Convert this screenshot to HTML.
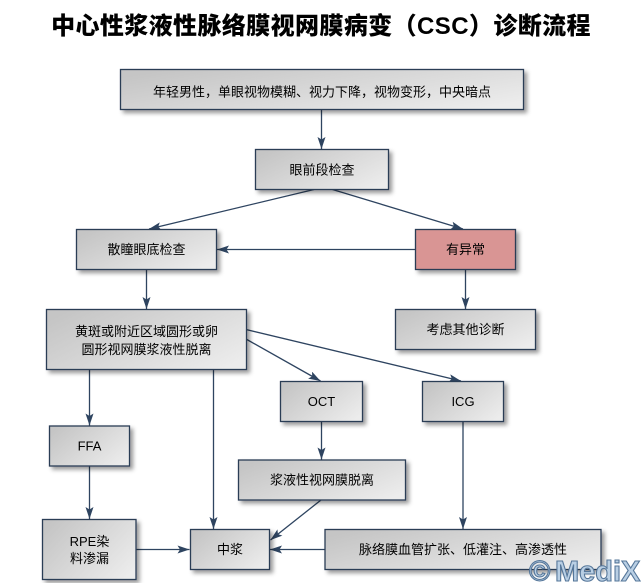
<!DOCTYPE html>
<html>
<head>
<meta charset="utf-8">
<style>
  html, body { margin: 0; padding: 0; background: #ffffff; }
  body { width: 642px; height: 583px; overflow: hidden; }
  svg { display: block; }
  .t { font-family: "Liberation Sans", "Noto Sans CJK SC", sans-serif; font-size: 13px; fill: #000; text-anchor: middle; }
  .title { font-family: "Liberation Sans", "Noto Sans CJK SC", sans-serif; font-size: 24px; font-weight: 900; fill: #000; text-anchor: middle; letter-spacing: 0.4px; }
  .box { stroke: #2b3d55; stroke-width: 1.3; filter: url(#sh); }
  .ln { stroke: #2e4460; stroke-width: 1.3; fill: none; marker-end: url(#ah); }
  .wm { font-family: "Liberation Sans", sans-serif; font-weight: bold; font-size: 29px; fill: #b9cfe4; stroke: #56779a; stroke-width: 1.1; }
</style>
</head>
<body>
<svg width="642" height="583" viewBox="0 0 642 583" xmlns="http://www.w3.org/2000/svg">
  <defs>
    <linearGradient id="g" x1="0" y1="0.2" x2="1" y2="0.8">
      <stop offset="0" stop-color="#c5c5c5"/>
      <stop offset="1" stop-color="#ececec"/>
    </linearGradient>
    <filter id="sh" x="-10%" y="-20%" width="130%" height="160%">
      <feDropShadow dx="3" dy="3" stdDeviation="2" flood-color="#000" flood-opacity="0.4"/>
    </filter>
    <marker id="ah" markerUnits="userSpaceOnUse" markerWidth="14" markerHeight="10" refX="12" refY="4" orient="auto">
      <path d="M0,0 L12,4 L0,8 L2.5,4 Z" fill="#2e4460"/>
    </marker>
  </defs>

  <!-- Title -->
  <text class="title" x="321" y="34">中心性浆液性脉络膜视网膜病变（CSC）诊断流程</text>

  <!-- Connectors -->
  <line class="ln" x1="321.5" y1="109.5" x2="321.5" y2="149"/>
  <line class="ln" x1="314" y1="189.5" x2="149" y2="229"/>
  <line class="ln" x1="332.5" y1="189.5" x2="463" y2="229"/>
  <line class="ln" x1="415.5" y1="249.5" x2="217" y2="249.5"/>
  <line class="ln" x1="146.5" y1="269.5" x2="146.5" y2="309"/>
  <line class="ln" x1="465.5" y1="269.5" x2="465.5" y2="309"/>
  <line class="ln" x1="246" y1="339" x2="320.5" y2="381"/>
  <line class="ln" x1="246" y1="329.5" x2="461" y2="381"/>
  <line class="ln" x1="89.5" y1="369.5" x2="89.5" y2="425.5"/>
  <line class="ln" x1="213.5" y1="369.5" x2="213.5" y2="529"/>
  <line class="ln" x1="321.5" y1="421.5" x2="321.5" y2="459.5"/>
  <line class="ln" x1="463" y1="421.5" x2="463" y2="529"/>
  <line class="ln" x1="89.5" y1="466" x2="89.5" y2="519"/>
  <line class="ln" x1="136" y1="549.5" x2="189.5" y2="549.5"/>
  <line class="ln" x1="321" y1="500" x2="270.5" y2="540"/>
  <line class="ln" x1="325" y1="549.5" x2="270" y2="549.5"/>

  <!-- Boxes -->
  <rect class="box" x="120.5" y="69.5" width="403" height="40" fill="url(#g)"/>
  <text class="t" x="322" y="96.5">年轻男性，单眼视物模糊、视力下降，视物变形，中央暗点</text>

  <rect class="box" x="255.5" y="149.5" width="133" height="40" fill="url(#g)"/>
  <text class="t" x="322" y="174.5">眼前段检查</text>

  <rect class="box" x="76.5" y="229.5" width="140" height="40" fill="url(#g)"/>
  <text class="t" x="146.5" y="254">散瞳眼底检查</text>

  <rect class="box" x="415.5" y="229.5" width="100" height="40" fill="#d99594"/>
  <text class="t" x="465.5" y="254">有异常</text>

  <rect class="box" x="46.5" y="309.5" width="200" height="60" fill="url(#g)"/>
  <text class="t" x="146.5" y="336">黄斑或附近区域圆形或卵</text>
  <text class="t" x="146.5" y="354">圆形视网膜浆液性脱离</text>

  <rect class="box" x="395.5" y="309.5" width="140" height="40" fill="url(#g)"/>
  <text class="t" x="465.5" y="334">考虑其他诊断</text>

  <rect class="box" x="280.5" y="381.5" width="82" height="40" fill="url(#g)"/>
  <text class="t" x="321.5" y="406">OCT</text>

  <rect class="box" x="422.5" y="381.5" width="81" height="40" fill="url(#g)"/>
  <text class="t" x="463" y="406">ICG</text>

  <rect class="box" x="49.5" y="426" width="80" height="40" fill="url(#g)"/>
  <text class="t" x="89.5" y="450.5">FFA</text>

  <rect class="box" x="238.5" y="460" width="167" height="40" fill="url(#g)"/>
  <text class="t" x="322" y="484.5">浆液性视网膜脱离</text>

  <rect class="box" x="42.5" y="519.5" width="93.5" height="60" fill="url(#g)"/>
  <text class="t" x="89.5" y="546">RPE染</text>
  <text class="t" x="89.5" y="563">料渗漏</text>

  <rect class="box" x="190.5" y="529.5" width="79" height="40" fill="url(#g)"/>
  <text class="t" x="230" y="554">中浆</text>

  <rect class="box" x="325" y="529.5" width="276" height="40" fill="url(#g)"/>
  <text class="t" x="463" y="554">脉络膜血管扩张、低灌注、高渗透性</text>

  <!-- Watermark -->
  <text class="wm" x="529" y="581">©</text>
  <text class="wm" x="555" y="581">MediX</text>
</svg>
</body>
</html>
